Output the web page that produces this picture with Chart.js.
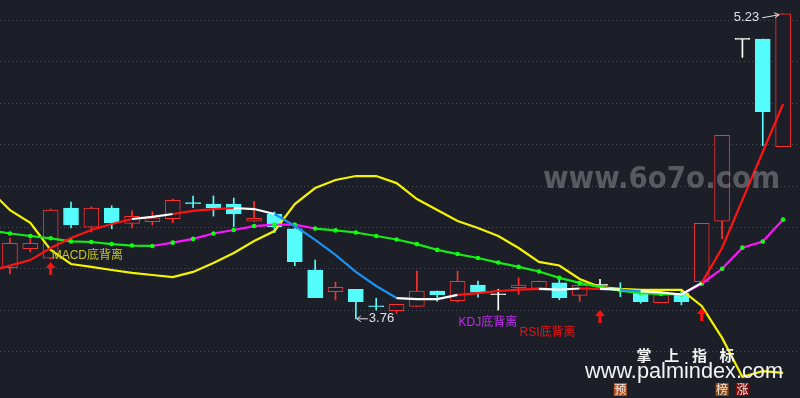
<!DOCTYPE html>
<html>
<head>
<meta charset="utf-8">
<script src="https://cdn.jsdelivr.net/npm/chart.js@4.4.0/dist/chart.umd.min.js"></script>
<style>
  html, body { margin: 0; padding: 0; background: #1c1f28; }
  #wrap { width: 800px; height: 398px; position: relative; }
</style>
</head>
<body>
<div id="wrap"><canvas id="kChart"></canvas></div>
<script>
// ================== K线数据 ==================
const open  = [4.006, 4.098, 4.052, 4.294, 4.202, 4.294, 4.220, 4.228, 4.242, 4.320, 4.313, 4.313, 4.230, 4.265, 4.193, 3.995, 3.891, 3.902, 3.822, 3.799,
               3.820, 3.894, 3.847, 3.923, 3.876, 3.910, 3.907, 3.933, 3.873, 3.921, 3.899, 3.883, 3.838, 3.883, 3.939, 4.230, 5.107, 5.108, 4.590];
const close = [4.124, 4.124, 4.284, 4.213, 4.294, 4.223, 4.254, 4.246, 4.331, 4.315, 4.295, 4.265, 4.244, 4.204, 4.035, 3.862, 3.912, 3.842, 3.818, 3.830,
               3.893, 3.876, 3.941, 3.888, 3.876, 3.923, 3.941, 3.862, 3.921, 3.921, 3.895, 3.842, 3.876, 3.842, 4.220, 4.644, 5.107, 4.758, 5.230];
const high  = [4.149, 4.145, 4.289, 4.323, 4.299, 4.305, 4.280, 4.276, 4.337, 4.352, 4.352, 4.342, 4.326, 4.275, 4.198, 4.043, 3.937, 3.902, 3.859, 3.830,
               3.990, 3.894, 3.990, 3.942, 3.902, 3.957, 3.942, 3.947, 3.933, 3.950, 3.934, 3.883, 3.876, 3.899, 4.220, 4.644, 5.107, 5.108, 5.230];
const low   = [3.976, 4.082, 4.048, 4.198, 4.178, 4.194, 4.198, 4.212, 4.223, 4.295, 4.255, 4.204, 4.228, 4.175, 4.016, 3.862, 3.851, 3.760, 3.802, 3.786,
               3.820, 3.844, 3.841, 3.864, 3.802, 3.878, 3.899, 3.852, 3.844, 3.912, 3.867, 3.835, 3.838, 3.827, 3.939, 4.146, 5.020, 4.594, 4.590];
const days = open.map((_, i) => i);

// ================== 均线 (从前一根K线开始) ==================
const lineDays = [-1, ...days];
const maShort = [3.990, 4.016, 4.043, 4.101, 4.149, 4.188, 4.217, 4.241, 4.251, 4.265, 4.280, 4.289, 4.294, 4.289, 4.265, 4.207, 4.140, 4.068, 3.986, 3.918,
                 3.860, 3.855, 3.855, 3.875, 3.884, 3.894, 3.901, 3.904, 3.901, 3.906, 3.904, 3.901, 3.892, 3.887, 3.877, 3.933, 4.101, 4.333, 4.564, 4.795];
const maMid   = [4.188, 4.171, 4.159, 4.148, 4.133, 4.130, 4.120, 4.113, 4.111, 4.127, 4.145, 4.171, 4.188, 4.207, 4.214, 4.214, 4.195, 4.186, 4.176, 4.159,
                 4.142, 4.120, 4.092, 4.072, 4.053, 4.031, 4.010, 3.988, 3.957, 3.933, 3.913, 3.896, 3.884, 3.880, 3.877, 3.929, 4.001, 4.103, 4.132, 4.238];
const maLong  = [4.381, 4.284, 4.222, 4.092, 4.024, 4.010, 3.995, 3.981, 3.971, 3.961, 3.986, 4.029, 4.077, 4.135, 4.183, 4.313, 4.390, 4.429, 4.448, 4.448,
                 4.414, 4.337, 4.284, 4.231, 4.198, 4.159, 4.101, 4.034, 4.017, 3.952, 3.913, 3.904, 3.899, 3.899, 3.899, 3.822, 3.668, 3.480, 3.508, 3.499];
// 每段的趋势: 1 上, 0 平, -1 下
const shortTrend = [1, 1, 1, 1, 1, 1, 1, 0, 0, 1, 1, 1, 0, 0, -1, -1, -1, -1, -1, -1,
                    0, 0, 0, 1, 1, 1, 1, 0, 0, 1, 0, -1, 0, 0, 0, 1, 1, 1, 1];
const midTrend   = [-1, -1, -1, -1, -1, -1, -1, -1, 1, 1, 1, 1, 1, 1, 1, 1, -1, -1, -1, -1,
                    -1, -1, -1, -1, -1, -1, -1, -1, -1, -1, -1, -1, -1, -1, 1, 1, 1, 1, 1];

// ================== 网格 / 信号 ==================
const gridLevels = [5.2, 5.0, 4.8, 4.6, 4.4, 4.2, 4.0, 3.8, 3.6];
const signalDays = [2, 29, 34];
const signalTips = [4.034, 3.802, 3.812];
const divLabels = ["MACD底背离", "KDJ底背离", "RSI底背离"];
const divDays   = [2, 22, 25];
const divLevels = [4.063, 3.742, 3.694];
const tagTexts = ["预", "榜", "涨"];
const tagDays  = [30, 35, 36];

// ================== 颜色 ==================
const BG = "#1c1f28";
const UP = "#ff3030";
const DOWN = "#54fcfc";
const FLAT = "#ffffff";

const candleKind = days.map(i => close[i] > open[i] ? "up" : (close[i] < open[i] ? "down" : "flat"));
const kindColor = k => k === "up" ? UP : (k === "down" ? DOWN : FLAT);

const shortColor = t => t > 0 ? "#ff1414" : (t < 0 ? "#1e90f0" : "#ffffff");
const midColor = t => t > 0 ? "#ff14ff" : "#18e818";

// ================== 标注插件 ==================
function upArrow(ctx, x, yTip) {
    ctx.fillStyle = "#ff1010";
    ctx.beginPath();
    ctx.moveTo(x, yTip);
    ctx.lineTo(x - 5, yTip + 6);
    ctx.lineTo(x + 5, yTip + 6);
    ctx.closePath();
    ctx.fill();
    ctx.fillRect(x - 1.5, yTip + 6, 3, 7);
}

const overlay = {
    id: "overlay",
    afterDatasetsDraw(chart) {
        const { ctx, scales: { x, y }, chartArea } = chart;
        ctx.save();

        signalDays.forEach((d, k) => upArrow(ctx, x.getPixelForValue(d), y.getPixelForValue(signalTips[k])));

        const divColors = ["#c8c818", "#c02cf0", "#e81414"];
        ctx.font = "12px 'Liberation Sans', 'Noto Sans CJK SC', sans-serif";
        ctx.textBaseline = "middle";
        ctx.textAlign = "left";
        divLabels.forEach((t, k) => {
            ctx.fillStyle = divColors[k];
            ctx.fillText(t, x.getPixelForValue(divDays[k]) + 1, y.getPixelForValue(divLevels[k]));
        });

        // 最低价标注
        const lowIdx = low.indexOf(Math.min(...low));
        const lx = x.getPixelForValue(lowIdx) + 1;
        const ly = y.getPixelForValue(low[lowIdx]);
        ctx.strokeStyle = "#e0e0e8";
        ctx.lineWidth = 1;
        ctx.beginPath();
        ctx.moveTo(lx + 11, ly); ctx.lineTo(lx, ly);
        ctx.moveTo(lx + 4, ly - 3); ctx.lineTo(lx, ly); ctx.lineTo(lx + 4, ly + 3);
        ctx.stroke();
        ctx.fillStyle = "#e0e0e8";
        ctx.font = "13px 'Liberation Sans', sans-serif";
        ctx.fillText(low[lowIdx].toFixed(2), lx + 12, ly);

        // 最高价标注
        const hiIdx = high.indexOf(Math.max(...high));
        const hx = x.getPixelForValue(hiIdx) - 4;
        const hy = y.getPixelForValue(high[hiIdx]) + 1;
        ctx.beginPath();
        ctx.moveTo(hx - 17, hy + 3); ctx.lineTo(hx, hy);
        ctx.moveTo(hx - 5, hy - 2); ctx.lineTo(hx, hy); ctx.lineTo(hx - 4, hy + 3);
        ctx.stroke();
        ctx.textAlign = "right";
        ctx.fillText(high[hiIdx].toFixed(2), hx - 20, hy + 3);

        // 水印
        ctx.font = "bold 30px 'DejaVu Sans', sans-serif";
        ctx.textAlign = "left";
        ctx.textBaseline = "alphabetic";
        const wm = "www.6o7o.com";
        const wmW = ctx.measureText(wm).width;
        ctx.save();
        ctx.translate(543, 188);
        ctx.scale(237 / wmW, 1);
        ctx.fillStyle = "rgba(150,150,150,0.5)";
        ctx.fillText(wm, 0, 0);
        ctx.restore();

        ctx.fillStyle = "#f4f4f4";
        ctx.font = "bold 15px 'Noto Sans CJK SC', sans-serif";
        ctx.textAlign = "center";
        ctx.textBaseline = "middle";
        ["掌", "上", "指", "标"].forEach((c, k) => ctx.fillText(c, 644 + k * 27.7, 355));

        ctx.font = "22px 'Liberation Sans', sans-serif";
        ctx.textAlign = "left";
        ctx.textBaseline = "alphabetic";
        const site = "www.palmindex.com";
        const siteW = ctx.measureText(site).width;
        ctx.save();
        ctx.translate(585, 378);
        ctx.scale(198 / siteW, 1);
        ctx.fillText(site, 0, 0);
        ctx.restore();

        // 底部小标签
        const tagBg = ["#b5511c", "#8b4a16", "#7d0a0a"];
        ctx.font = "12px 'Noto Sans CJK SC', sans-serif";
        ctx.textAlign = "center";
        ctx.textBaseline = "middle";
        tagTexts.forEach((t, k) => {
            const cx = x.getPixelForValue(tagDays[k]);
            ctx.fillStyle = tagBg[k];
            ctx.fillRect(cx - 6.5, chartArea.bottom - 15, 13, 13);
            ctx.fillStyle = "#f4e8e0";
            ctx.fillText(t, cx, chartArea.bottom - 8.5);
        });

        ctx.restore();
    }
};

// ================== 图表 ==================
const ctxK = document.getElementById("kChart");

new Chart(ctxK, {
    type: "bar",
    data: {
        datasets: [
            {
                type: "line",
                label: "短期均线",
                data: lineDays.map((d, i) => ({ x: d, y: maShort[i] })),
                borderWidth: 2.2,
                pointRadius: 0,
                tension: 0,
                segment: { borderColor: c => shortColor(shortTrend[c.p0DataIndex]) },
                order: 0
            },
            {
                type: "line",
                label: "中期均线",
                data: lineDays.map((d, i) => ({ x: d, y: maMid[i] })),
                borderWidth: 2.2,
                pointRadius: 2.3,
                pointBackgroundColor: "#10ff10",
                pointBorderWidth: 0,
                tension: 0,
                segment: { borderColor: c => midColor(midTrend[c.p0DataIndex]) },
                order: 1
            },
            {
                type: "line",
                label: "长期均线",
                data: lineDays.map((d, i) => ({ x: d, y: maLong[i] })),
                borderColor: "#f4f400",
                borderWidth: 2.2,
                pointRadius: 0,
                tension: 0,
                order: 2
            },
            {
                label: "实体",
                data: days.map(i => ({ x: i, y: [open[i], close[i]] })),
                grouped: false,
                barThickness: 15,
                minBarLength: 1,
                borderSkipped: false,
                borderWidth: 1,
                borderColor: candleKind.map(kindColor),
                backgroundColor: candleKind.map(k => k === "up" ? BG : kindColor(k)),
                order: 3
            },
            {
                label: "影线",
                data: days.map(i => ({ x: i, y: [low[i], high[i]] })),
                grouped: false,
                barThickness: 1,
                borderWidth: 0,
                backgroundColor: candleKind.map(kindColor),
                order: 4
            }
        ]
    },
    options: {
        responsive: true,
        maintainAspectRatio: false,
        animation: false,
        layout: { padding: 0, autoPadding: false },
        plugins: { legend: { display: false }, tooltip: { enabled: false } },
        scales: {
            x: {
                type: "linear",
                min: -0.49,
                max: 38.83,
                offset: false,
                display: false
            },
            y: {
                min: 3.3783,
                max: 5.2964,
                afterBuildTicks: s => { s.ticks = gridLevels.map(v => ({ value: v })); },
                ticks: { display: false },
                grid: { color: "#4a4e5a", lineWidth: 1, drawTicks: false },
                border: { display: false, dash: [1, 3] }
            }
        }
    },
    plugins: [overlay]
});
</script>
</body>
</html>
